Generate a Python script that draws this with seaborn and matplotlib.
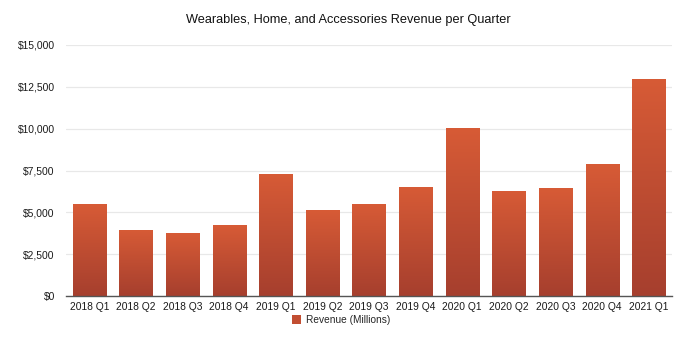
import numpy as np
import pandas as pd
import matplotlib
matplotlib.use("Agg")
import matplotlib.pyplot as plt
import seaborn as sns
from matplotlib.colors import LinearSegmentedColormap
from matplotlib.ticker import FuncFormatter
from matplotlib.patches import Patch

quarters = ["2018 Q1", "2018 Q2", "2018 Q3", "2018 Q4",
            "2019 Q1", "2019 Q2", "2019 Q3", "2019 Q4",
            "2020 Q1", "2020 Q2", "2020 Q3", "2020 Q4", "2021 Q1"]
revenue = [5489, 3954, 3740, 4234, 7308, 5129, 5525, 6520,
           10010, 6284, 6450, 7876, 12971]
y_ticks = [0, 2500, 5000, 7500, 10000, 12500, 15000]

df = pd.DataFrame({"Quarter": quarters, "Revenue (Millions)": revenue})

sns.set_theme(style="white")
plt.rcParams["font.family"] = ["Liberation Sans", "DejaVu Sans"]

fig = plt.figure(figsize=(6.96, 3.42), dpi=100)
ax = fig.add_axes([66 / 696, 1 - 296 / 342, (672 - 66) / 696, (296 - 45) / 342])

top_c = "#D75B36"
bot_c = "#A63F2E"
sns.barplot(data=df, x="Quarter", y="Revenue (Millions)", color=top_c,
            width=0.71, ax=ax, saturation=1)

cmap = LinearSegmentedColormap.from_list("g", [bot_c, top_c])
grad = np.linspace(0, 1, 256).reshape(-1, 1)
for p in ax.patches:
    x0, y0 = p.get_x(), p.get_y()
    w, h = p.get_width(), p.get_height()
    im = ax.imshow(grad, cmap=cmap, aspect="auto", origin="lower",
                   extent=[x0, x0 + w, y0, y0 + h], zorder=2)
    im.set_clip_path(p)
    p.set_facecolor("none")
    p.set_edgecolor("none")

ax.set_xlim(-0.5, len(quarters) - 0.5)
ax.set_ylim(0, 15000)
ax.set_yticks(y_ticks)
ax.yaxis.set_major_formatter(FuncFormatter(lambda v, _: f"${v:,.0f}"))
ax.grid(axis="y", color="#e8e8e8", linewidth=0.9, zorder=0)
ax.set_axisbelow(True)
for s in ["top", "right", "left"]:
    ax.spines[s].set_visible(False)
ax.spines["bottom"].set_color("#555555")
ax.spines["bottom"].set_linewidth(1.0)
ax.tick_params(axis="both", length=0, labelsize=7.4, colors="#1a1a1a")
ax.tick_params(axis="x", pad=4)
ax.tick_params(axis="y", pad=8)
ax.set_xlabel("")
ax.set_ylabel("")

fig.text(0.5, 1 - 20 / 342, "Wearables, Home, and Accessories Revenue per Quarter",
         ha="center", va="center", fontsize=9.2, color="#111111")

handles = [Patch(facecolor="#C24E32", edgecolor="none", label="Revenue (Millions)")]
fig.legend(handles=handles, loc="center", bbox_to_anchor=(341 / 696, 1 - 320 / 342),
           frameon=False, fontsize=7.3, handlelength=0.85, handleheight=0.85,
           handletextpad=0.5)

fig.savefig("out.png", dpi=100)
